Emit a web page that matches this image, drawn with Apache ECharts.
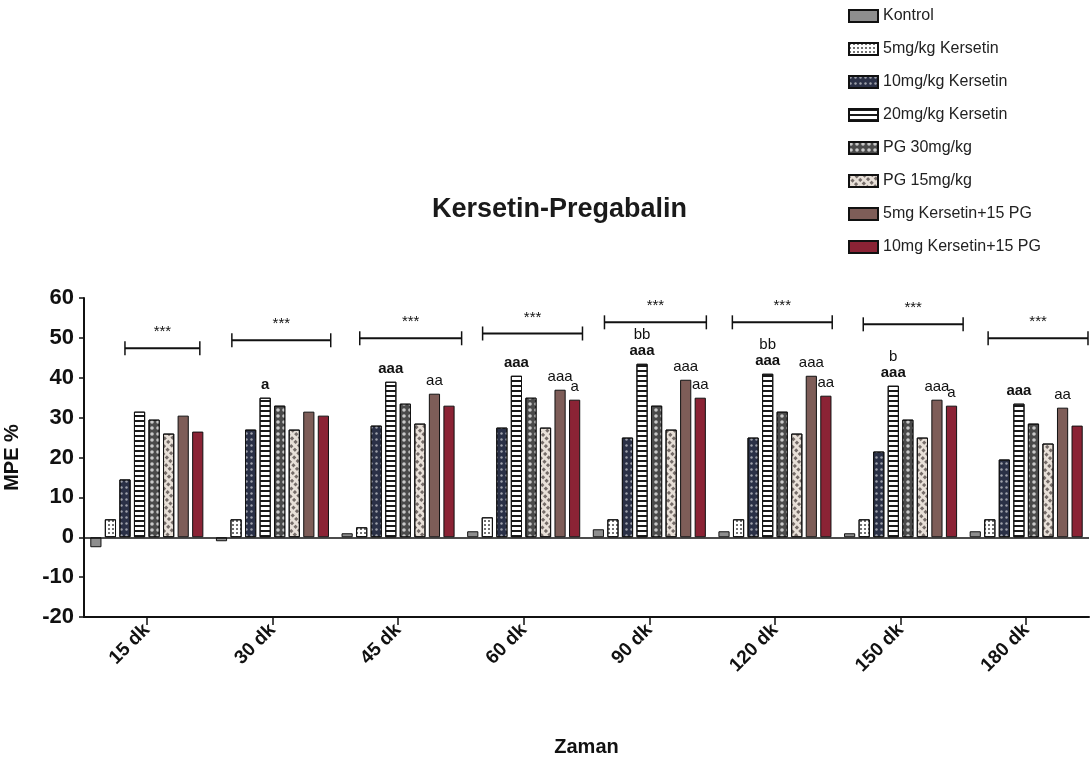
<!DOCTYPE html>
<html>
<head>
<meta charset="utf-8">
<script src="https://cdn.jsdelivr.net/npm/echarts@6/dist/echarts.min.js"></script>
<style>
html,body{margin:0;padding:0;background:#fff;}
#chart{width:1092px;height:758px;}
</style>
</head>
<body>
<div id="chart"></div>
<script>
// ---- data ----
const categories = ['15 dk', '30 dk', '45 dk', '60 dk', '90 dk', '120 dk', '150 dk', '180 dk'];
const seriesNames = ['Kontrol', '5mg/kg Kersetin', '10mg/kg Kersetin', '20mg/kg Kersetin',
  'PG 30mg/kg', 'PG 15mg/kg', '5mg Kersetin+15 PG', '10mg Kersetin+15 PG'];
const kontrol      = [-2.5, -1, 1, 1.5, 2, 1.5, 1, 1.5];
const kersetin5    = [4.5, 4.5, 2.5, 5, 4.5, 4.5, 4.5, 4.5];
const kersetin10   = [14.5, 27, 28, 27.5, 25, 25, 21.5, 19.5];
const kersetin20   = [31.5, 35, 39, 40.5, 43.5, 41, 38, 33.5];
const pg30         = [29.5, 33, 33.5, 35, 33, 31.5, 29.5, 28.5];
const pg15         = [26, 27, 28.5, 27.5, 27, 26, 25, 23.5];
const k5pg15       = [30.5, 31.5, 36, 37, 39.5, 40.5, 34.5, 32.5];
const k10pg15      = [26.5, 30.5, 33, 34.5, 35, 35.5, 33, 28];
const yTicks = { min: -20, max: 60, interval: 10 };

// significance letters above bars
const labelCats   = [1, 2, 2, 3, 3, 3, 4, 4, 4, 5, 5, 5, 6, 6, 6, 7, 7];
const labelSeries = [3, 3, 6, 3, 6, 7, 3, 6, 7, 3, 6, 7, 3, 6, 7, 3, 6];
const labelUpper  = ['', '', '', '', '', '', 'bb', '', '', 'bb', '', '', 'b', '', '', '', ''];
const labelLower  = ['a', 'aaa', 'aa', 'aaa', 'aaa', 'a', 'aaa', 'aaa', 'aa', 'aaa', 'aaa', 'aa', 'aaa', 'aaa', 'a', 'aaa', 'aa'];
const labelBold   = [1, 1, 0, 1, 0, 0, 1, 0, 0, 1, 0, 0, 1, 0, 0, 1, 0];

// brackets (*** over each time point), x in category units
const bracketStart = [0.326, 1.177, 2.195, 3.173, 4.143, 5.161, 6.203, 7.197];
const bracketEnd   = [0.922, 1.964, 3.006, 3.968, 4.954, 5.956, 6.998, 7.992];
const bracketY     = [47.4, 49.4, 49.9, 51.1, 53.9, 53.9, 53.4, 49.9];
const bracketText  = ['***', '***', '***', '***', '***', '***', '***', '***'];

const allValues = [kontrol, kersetin5, kersetin10, kersetin20, pg30, pg15, k5pg15, k10pg15];

// ---- styles ----
const FONT = "'Liberation Sans', Arial, sans-serif";
const styles = [
  { color: '#8e8e8e' },
  { color: '#ffffff', decal: { symbol: 'rect', symbolSize: 1, dashArrayX: [2, 2], dashArrayY: [2, 2], color: 'rgba(0,0,0,0.55)' } },
  { color: '#2a3046', decal: { symbol: 'circle', symbolSize: 0.8, dashArrayX: [3, 2], dashArrayY: [3, 3], color: 'rgba(255,255,255,0.55)' } },
  { color: '#ffffff', decal: { symbol: 'rect', symbolSize: 1, dashArrayX: [1, 0], dashArrayY: [2, 3], color: '#1a1a1a' } },
  { color: '#4a4a4a', decal: { symbol: 'circle', symbolSize: 0.9, dashArrayX: [4, 2], dashArrayY: [4, 2], color: 'rgba(255,255,255,0.7)' } },
  { color: '#e8e0d8', decal: { symbol: 'rect', rotation: Math.PI / 4, symbolSize: 1, dashArrayX: [3, 2], dashArrayY: [3, 3], color: 'rgba(40,30,30,0.6)' } },
  { color: '#7e5d58' },
  { color: '#8b2335' }
];

function buildData(si) {
  return allValues[si].map(function (v, ci) {
    for (let k = 0; k < labelCats.length; k++) {
      if (labelCats[k] === ci && labelSeries[k] === si) {
        const low = labelBold[k] ? '{b|' + labelLower[k] + '}' : '{n|' + labelLower[k] + '}';
        const txt = labelUpper[k] ? '{n|' + labelUpper[k] + '}\n' + low : low;
        return { value: v, label: { show: true, position: 'top', distance: 5, formatter: txt } };
      }
    }
    return v;
  });
}

const barSeries = seriesNames.map(function (name, si) {
  const s = {
    name: name,
    type: 'bar',
    xAxisIndex: 0,
    yAxisIndex: 0,
    barGap: '30%',
    barCategoryGap: '10%',
    data: buildData(si),
    itemStyle: Object.assign({ borderColor: '#111', borderWidth: 1 }, styles[si]),
    label: {
      show: false,
      rich: {
        n: { fontFamily: FONT, fontSize: 15, color: '#111', lineHeight: 16, align: 'center' },
        b: { fontFamily: FONT, fontSize: 15, fontWeight: 'bold', color: '#111', lineHeight: 16, align: 'center' }
      }
    },
    emphasis: { disabled: true }
  };
  if (si === 0) {
    s.markLine = {
      silent: true, symbol: 'none', label: { show: false },
      lineStyle: { color: '#111', width: 1.5, type: 'solid' },
      data: [{ yAxis: 0 }]
    };
  }
  return s;
});

const bracketSeries = {
  type: 'custom',
  name: 'brackets',
  xAxisIndex: 1,
  yAxisIndex: 0,
  silent: true,
  clip: false,
  encode: { x: [0, 1], y: 2 },
  data: bracketStart.map(function (s, i) { return [s, bracketEnd[i], bracketY[i]]; }),
  renderItem: function (params, api) {
    const p1 = api.coord([api.value(0), api.value(2)]);
    const p2 = api.coord([api.value(1), api.value(2)]);
    return {
      type: 'group',
      children: [
        { type: 'line', shape: { x1: p1[0], y1: p1[1], x2: p2[0], y2: p2[1] }, style: { stroke: '#111', lineWidth: 2 } },
        { type: 'line', shape: { x1: p1[0], y1: p1[1] - 7, x2: p1[0], y2: p1[1] + 7 }, style: { stroke: '#111', lineWidth: 1.5 } },
        { type: 'line', shape: { x1: p2[0], y1: p2[1] - 7, x2: p2[0], y2: p2[1] + 7 }, style: { stroke: '#111', lineWidth: 1.5 } },
        { type: 'text', x: (p1[0] + p2[0]) / 2, y: p1[1] - 16,
          style: { text: bracketText[params.dataIndex], fontFamily: FONT, fontSize: 15, fill: '#111', textAlign: 'center', textVerticalAlign: 'middle' } }
      ]
    };
  }
};

const chart = echarts.init(document.getElementById('chart'), null, { renderer: 'canvas' });
chart.setOption({
  backgroundColor: '#ffffff',
  animation: false,
  title: {
    text: 'Kersetin-Pregabalin',
    left: 432, top: 196, padding: 0,
    textStyle: { fontFamily: FONT, fontSize: 27, fontWeight: 'bold', color: '#1a1a1a' }
  },
  legend: {
    orient: 'vertical',
    left: 848, top: 7, padding: 0,
    itemWidth: 29, itemHeight: 12, itemGap: 15,
    icon: 'rect',
    data: seriesNames,
    textStyle: { fontFamily: FONT, fontSize: 16, lineHeight: 18, color: '#222' }
  },
  grid: { left: 84, right: 3, top: 298, bottom: 141, containLabel: false, outerBoundsMode: 'none' },
  xAxis: [
    {
      type: 'category',
      data: categories,
      name: 'Zaman',
      nameLocation: 'middle',
      nameGap: 120,
      nameTextStyle: { fontFamily: FONT, fontSize: 20, fontWeight: 'bold', color: '#111' },
      axisLine: { onZero: false, lineStyle: { color: '#111', width: 2 } },
      axisTick: { show: true, alignWithLabel: true, length: 8, lineStyle: { color: '#111', width: 1.5 } },
      axisLabel: { rotate: 45, margin: 10, fontFamily: FONT, fontSize: 19, fontWeight: 'bold', color: '#111' },
      splitLine: { show: false }
    },
    { type: 'value', min: 0, max: 8, show: false }
  ],
  yAxis: {
    type: 'value',
    min: yTicks.min, max: yTicks.max, interval: yTicks.interval,
    name: 'MPE %',
    nameLocation: 'middle',
    nameGap: 62,
    nameTextStyle: { fontFamily: FONT, fontSize: 20, fontWeight: 'bold', color: '#111' },
    axisLine: { show: true, lineStyle: { color: '#111', width: 2 } },
    axisTick: { show: true, length: 5, lineStyle: { color: '#111', width: 1.5 } },
    axisLabel: { margin: 10, fontFamily: FONT, fontSize: 22, fontWeight: 'bold', color: '#111' },
    splitLine: { show: false }
  },
  series: barSeries.concat([bracketSeries])
});
</script>
</body>
</html>
